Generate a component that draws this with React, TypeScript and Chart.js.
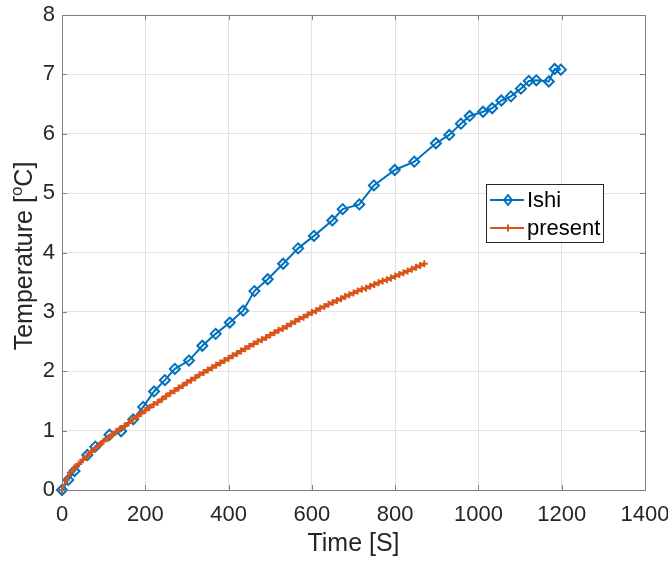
import React, { useEffect, useRef } from "react";
import { Chart, registerables } from "chart.js";

Chart.register(...registerables);

const ishiTime = [0, 15, 30, 61, 80, 114, 142, 171, 195, 221, 247, 271, 305, 337, 369, 403, 435, 462, 494, 531, 567, 605, 649, 674, 714, 749, 799, 846, 898, 930, 958, 979, 1011, 1033, 1055, 1078, 1102, 1121, 1139, 1169, 1183, 1198];
const ishiTemp = [0, 0.17, 0.32, 0.59, 0.73, 0.93, 0.99, 1.19, 1.4, 1.66, 1.85, 2.04, 2.18, 2.43, 2.63, 2.82, 3.02, 3.35, 3.55, 3.81, 4.07, 4.28, 4.54, 4.73, 4.81, 5.13, 5.39, 5.53, 5.84, 5.98, 6.17, 6.3, 6.37, 6.43, 6.56, 6.63, 6.76, 6.89, 6.9, 6.88, 7.09, 7.08];

const presentTime = [0, 10, 20, 30, 40, 50, 60, 70, 80, 90, 100, 110, 120, 130, 140, 150, 160, 170, 180, 190, 200, 210, 220, 230, 240, 250, 260, 270, 280, 290, 300, 310, 320, 330, 340, 350, 360, 370, 380, 390, 400, 410, 420, 430, 440, 450, 460, 470, 480, 490, 500, 510, 520, 530, 540, 550, 560, 570, 580, 590, 600, 610, 620, 630, 640, 650, 660, 670, 680, 690, 700, 710, 720, 730, 740, 750, 760, 770, 780, 790, 800, 810, 820, 830, 840, 850, 860, 870];
const presentTemp = [0, 0.17, 0.29, 0.37, 0.44, 0.51, 0.57, 0.64, 0.7, 0.76, 0.82, 0.87, 0.93, 0.98, 1.03, 1.08, 1.13, 1.19, 1.24, 1.29, 1.34, 1.39, 1.44, 1.48, 1.53, 1.58, 1.63, 1.67, 1.72, 1.76, 1.81, 1.85, 1.89, 1.94, 1.98, 2.02, 2.06, 2.1, 2.14, 2.18, 2.22, 2.26, 2.3, 2.34, 2.38, 2.42, 2.46, 2.5, 2.53, 2.57, 2.61, 2.65, 2.69, 2.72, 2.76, 2.8, 2.84, 2.88, 2.91, 2.95, 2.99, 3.02, 3.06, 3.09, 3.13, 3.16, 3.19, 3.22, 3.26, 3.29, 3.32, 3.35, 3.38, 3.4, 3.43, 3.46, 3.49, 3.52, 3.54, 3.57, 3.6, 3.63, 3.66, 3.69, 3.72, 3.75, 3.78, 3.81];

const xTicks = [0, 200, 400, 600, 800, 1000, 1200, 1400];
const yTicks = [0, 1, 2, 3, 4, 5, 6, 7, 8];

const seriesNames = ["Ishi", "present"];
const xTitle = "Time [S]";
const yTitleParts = ["Temperature [", "o", "C]"];

const BLUE = "#0072BD";
const ORANGE = "#D95319";
const FONT = "'Liberation Sans', Arial, sans-serif";
const TEXT = "#262626";

export default function App() {
  const ref = useRef<HTMLCanvasElement>(null);

  useEffect(() => {
    document.body.style.margin = "0";
    const canvas = ref.current!;

    const frame = {
      id: "frame",
      afterDraw(chart: any) {
        const ctx = chart.ctx;
        const a = chart.chartArea;
        const xs = chart.scales.x;
        const ys = chart.scales.y;
        ctx.save();
        // box
        ctx.strokeStyle = "#808080";
        ctx.lineWidth = 1;
        ctx.strokeRect(Math.round(a.left) + 0.5, Math.round(a.top) + 0.5, Math.round(a.right - a.left), Math.round(a.bottom - a.top));
        // inward ticks
        ctx.beginPath();
        const tl = 5;
        for (const v of xTicks) {
          const px = Math.round(xs.getPixelForValue(v)) + 0.5;
          ctx.moveTo(px, a.bottom);
          ctx.lineTo(px, a.bottom - tl);
          ctx.moveTo(px, a.top);
          ctx.lineTo(px, a.top + tl);
        }
        for (const v of yTicks) {
          const py = Math.round(ys.getPixelForValue(v)) + 0.5;
          ctx.moveTo(a.left, py);
          ctx.lineTo(a.left + tl, py);
          ctx.moveTo(a.right, py);
          ctx.lineTo(a.right - tl, py);
        }
        ctx.stroke();

        // axis titles
        ctx.fillStyle = TEXT;
        ctx.font = `25px ${FONT}`;
        ctx.textAlign = "center";
        ctx.textBaseline = "middle";
        ctx.fillText(xTitle, (a.left + a.right) / 2, 544);

        // y title with superscript
        const big = `25px ${FONT}`;
        const small = `17px ${FONT}`;
        ctx.font = big;
        const w1 = ctx.measureText(yTitleParts[0]).width;
        const w3 = ctx.measureText(yTitleParts[2]).width;
        ctx.font = small;
        const w2 = ctx.measureText(yTitleParts[1]).width;
        const total = w1 + w2 + w3;
        ctx.translate(25, 256);
        ctx.rotate(-Math.PI / 2);
        ctx.textAlign = "left";
        ctx.textBaseline = "middle";
        let x0 = -total / 2;
        ctx.font = big;
        ctx.fillText(yTitleParts[0], x0, 0);
        x0 += w1;
        ctx.font = small;
        ctx.fillText(yTitleParts[1], x0, -8);
        x0 += w2;
        ctx.font = big;
        ctx.fillText(yTitleParts[2], x0, 0);
        ctx.setTransform(1, 0, 0, 1, 0, 0);

        // legend
        const lx = 486.5, ly = 184.5, lw = 117, lh = 58;
        ctx.fillStyle = "#ffffff";
        ctx.fillRect(lx, ly, lw, lh);
        ctx.strokeStyle = TEXT;
        ctx.lineWidth = 1;
        ctx.strokeRect(lx, ly, lw, lh);
        const rows = [
          { y: 200, color: BLUE, name: seriesNames[0], marker: "diamond" },
          { y: 228, color: ORANGE, name: seriesNames[1], marker: "plus" },
        ];
        for (const r of rows) {
          ctx.strokeStyle = r.color;
          ctx.lineWidth = 2;
          ctx.beginPath();
          ctx.moveTo(490, r.y);
          ctx.lineTo(524, r.y);
          ctx.stroke();
          ctx.beginPath();
          if (r.marker === "diamond") {
            ctx.moveTo(508, r.y - 5);
            ctx.lineTo(512, r.y);
            ctx.lineTo(508, r.y + 5);
            ctx.lineTo(504, r.y);
            ctx.closePath();
          } else {
            ctx.moveTo(508, r.y - 3.5);
            ctx.lineTo(508, r.y + 3.5);
            ctx.moveTo(504.5, r.y);
            ctx.lineTo(511.5, r.y);
          }
          ctx.stroke();
          ctx.fillStyle = "#000000";
          ctx.font = `22px ${FONT}`;
          ctx.textAlign = "left";
          ctx.textBaseline = "middle";
          ctx.fillText(r.name, 527, r.y + 1);
        }
        ctx.restore();
      },
    };

    const chart = new Chart(canvas, {
      type: "scatter",
      data: {
        datasets: [
          {
            label: seriesNames[0],
            data: ishiTime.map((t, i) => ({ x: t, y: ishiTemp[i] })),
            showLine: true,
            borderColor: BLUE,
            backgroundColor: "rgba(0,0,0,0)",
            borderWidth: 2,
            pointStyle: "rectRot",
            pointRadius: 5,
            pointBorderWidth: 2,
            pointBorderColor: BLUE,
            pointBackgroundColor: "rgba(0,0,0,0)",
            clip: false as any,
            order: 1,
          },
          {
            label: seriesNames[1],
            data: presentTime.map((t, i) => ({ x: t, y: presentTemp[i] })),
            showLine: true,
            borderColor: ORANGE,
            backgroundColor: ORANGE,
            borderWidth: 2,
            pointStyle: "cross",
            pointRadius: 3.5,
            pointBorderWidth: 2,
            pointBorderColor: ORANGE,
            clip: false as any,
            order: 0,
          },
        ],
      },
      options: {
        responsive: false,
        animation: false,
        devicePixelRatio: 1,
        layout: { padding: { left: 0, right: 23, top: 15, bottom: 0 } },
        plugins: { legend: { display: false }, tooltip: { enabled: false } },
        scales: {
          x: {
            type: "linear",
            min: 0,
            max: 1400,
            afterBuildTicks: (s: any) => {
              s.ticks = xTicks.map((v) => ({ value: v }));
            },
            afterFit: (s: any) => {
              s.height = 72;
              s.paddingLeft = 0;
              s.paddingRight = 0;
            },
            grid: { color: "#e2e2e2", lineWidth: 1, drawTicks: false },
            border: { display: false },
            ticks: { color: TEXT, font: { family: FONT, size: 22 }, padding: 12, maxRotation: 0, callback: (v: any) => String(v) },
          },
          y: {
            type: "linear",
            min: 0,
            max: 8,
            afterBuildTicks: (s: any) => {
              s.ticks = yTicks.map((v) => ({ value: v }));
            },
            afterFit: (s: any) => {
              s.width = 62;
              s.paddingTop = 0;
              s.paddingBottom = 0;
            },
            grid: { color: "#e2e2e2", lineWidth: 1, drawTicks: false },
            border: { display: false },
            ticks: { color: TEXT, font: { family: FONT, size: 22 }, padding: 7, callback: (v: any) => String(v) },
          },
        },
      },
      plugins: [frame],
    });
    return () => chart.destroy();
  }, []);

  return <canvas ref={ref} width={668} height={562} style={{ display: "block" }} />;
}
